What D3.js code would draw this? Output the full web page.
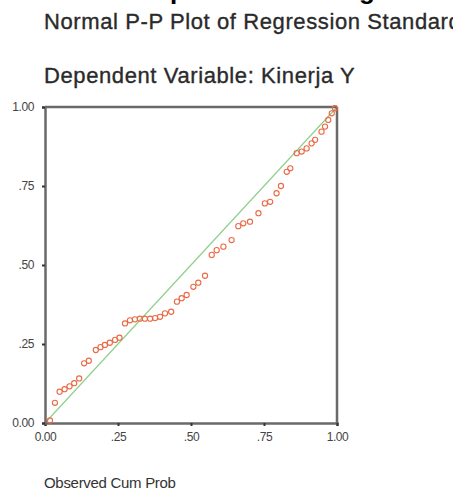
<!DOCTYPE html>
<html>
<head>
<meta charset="utf-8">
<script src="https://cdn.jsdelivr.net/npm/d3@7"></script>
<style>
  body { margin: 0; background: #fff; }
  svg { display: block; }
  text { font-family: "Liberation Sans", Arial, sans-serif; }
</style>
</head>
<body>
<div id="chart"></div>
<script>
// observed vs expected cum prob
var observed = [0.017, 0.034, 0.050, 0.067, 0.084, 0.100, 0.117, 0.134, 0.150, 0.174,
                0.190, 0.205, 0.222, 0.240, 0.255, 0.274, 0.291, 0.308, 0.325, 0.342,
                0.360, 0.377, 0.394, 0.411, 0.432, 0.452, 0.468, 0.485, 0.508, 0.525,
                0.548, 0.571, 0.588, 0.611, 0.639, 0.662, 0.679, 0.702, 0.731, 0.753,
                0.771, 0.793, 0.808, 0.828, 0.840, 0.862, 0.879, 0.896, 0.913, 0.925,
                0.947, 0.959, 0.970, 0.982, 0.993];
var expected = [0.008, 0.064, 0.099, 0.107, 0.116, 0.126, 0.141, 0.189, 0.197, 0.231,
                0.240, 0.247, 0.254, 0.263, 0.270, 0.315, 0.325, 0.328, 0.330, 0.330,
                0.330, 0.332, 0.336, 0.347, 0.352, 0.384, 0.395, 0.405, 0.431, 0.444,
                0.466, 0.532, 0.547, 0.558, 0.579, 0.623, 0.632, 0.637, 0.664, 0.695,
                0.700, 0.727, 0.750, 0.795, 0.806, 0.854, 0.859, 0.869, 0.885, 0.896,
                0.922, 0.938, 0.959, 0.980, 0.996];
var tickValues = [0, 0.25, 0.5, 0.75, 1];
var tickLabels = ["0.00", ".25", ".50", ".75", "1.00"];
var titleLines = ["Normal P-P Plot of Regression Standardized Residual", "Dependent Variable: Kinerja Y"];
var xTitle = "Observed Cum Prob";

var width = 453, height = 492;
// plot box (note: "top" is taken by window.top, so use other names)
var plotL = 45, plotR = 337, plotT = 107, plotB = 423;

var svg = d3.select("#chart").append("svg")
  .attr("width", width)
  .attr("height", height);

// heading above, cut off by the top edge
var head = svg.append("text")
  .attr("y", -1)
  .attr("font-family", "Liberation Serif, serif")
  .attr("font-weight", "bold")
  .attr("font-size", 26)
  .attr("fill", "#000");
head.append("tspan").attr("x", 170).text("p");
head.append("tspan").attr("x", 359).text("g");

svg.selectAll(".title")
  .data(titleLines)
  .enter().append("text")
  .attr("class", "title")
  .attr("x", 44)
  .attr("y", function(d, i) { return 29 + i * 54; })
  .attr("font-size", 22)
  .attr("letter-spacing", 0.6)
  .attr("fill", "#2a2a2a")
  .attr("stroke", "#2a2a2a")
  .attr("stroke-width", 0.35)
  .text(function(d) { return d; });

var x = d3.scaleLinear().domain([0, 1]).range([plotL, plotR]);
var y = d3.scaleLinear().domain([0, 1]).range([plotB, plotT]);

// diagonal reference line
svg.append("line")
  .attr("x1", x(0)).attr("y1", y(0))
  .attr("x2", x(1)).attr("y2", y(1))
  .attr("stroke", "#8fd08a")
  .attr("stroke-width", 1.2);

// frame top + right
svg.append("line")
  .attr("x1", x(0)).attr("y1", y(1)).attr("x2", x(1)).attr("y2", y(1))
  .attr("stroke", "#6a6a6a").attr("stroke-width", 2.5);
svg.append("line")
  .attr("x1", x(1)).attr("y1", y(0)).attr("x2", x(1)).attr("y2", y(1))
  .attr("stroke", "#6a6a6a").attr("stroke-width", 2.5);

var xAxis = svg.append("g")
  .attr("transform", "translate(0," + plotB + ")")
  .call(d3.axisBottom(x).tickValues(tickValues).tickSize(3).tickPadding(6)
    .tickFormat(function(d, i) { return tickLabels[i]; }));

var yAxis = svg.append("g")
  .attr("transform", "translate(" + plotL + ",0)")
  .call(d3.axisLeft(y).tickValues(tickValues).tickSize(3).tickPadding(8)
    .tickFormat(function(d, i) { return tickLabels[i]; }));

[xAxis, yAxis].forEach(function(ax) {
  ax.select(".domain").attr("stroke", "#6a6a6a").attr("stroke-width", 2.5);
  ax.selectAll(".tick line").attr("stroke", "#333").attr("stroke-width", 2);
  ax.selectAll(".tick text")
    .attr("font-family", "Liberation Sans, Arial, sans-serif")
    .attr("font-size", 12)
    .attr("letter-spacing", -0.4)
    .attr("fill", "#444");
});

// points
svg.selectAll("circle.pt")
  .data(observed)
  .enter().append("circle")
  .attr("class", "pt")
  .attr("cx", function(d) { return x(d); })
  .attr("cy", function(d, i) { return y(expected[i]); })
  .attr("r", 2.6)
  .attr("fill", "none")
  .attr("stroke", "#ea6a45")
  .attr("stroke-width", 1.1);

svg.append("text")
  .attr("x", 44)
  .attr("y", 488)
  .attr("font-size", 15)
  .attr("letter-spacing", -0.3)
  .attr("fill", "#333")
  .text(xTitle);
</script>
</body>
</html>
